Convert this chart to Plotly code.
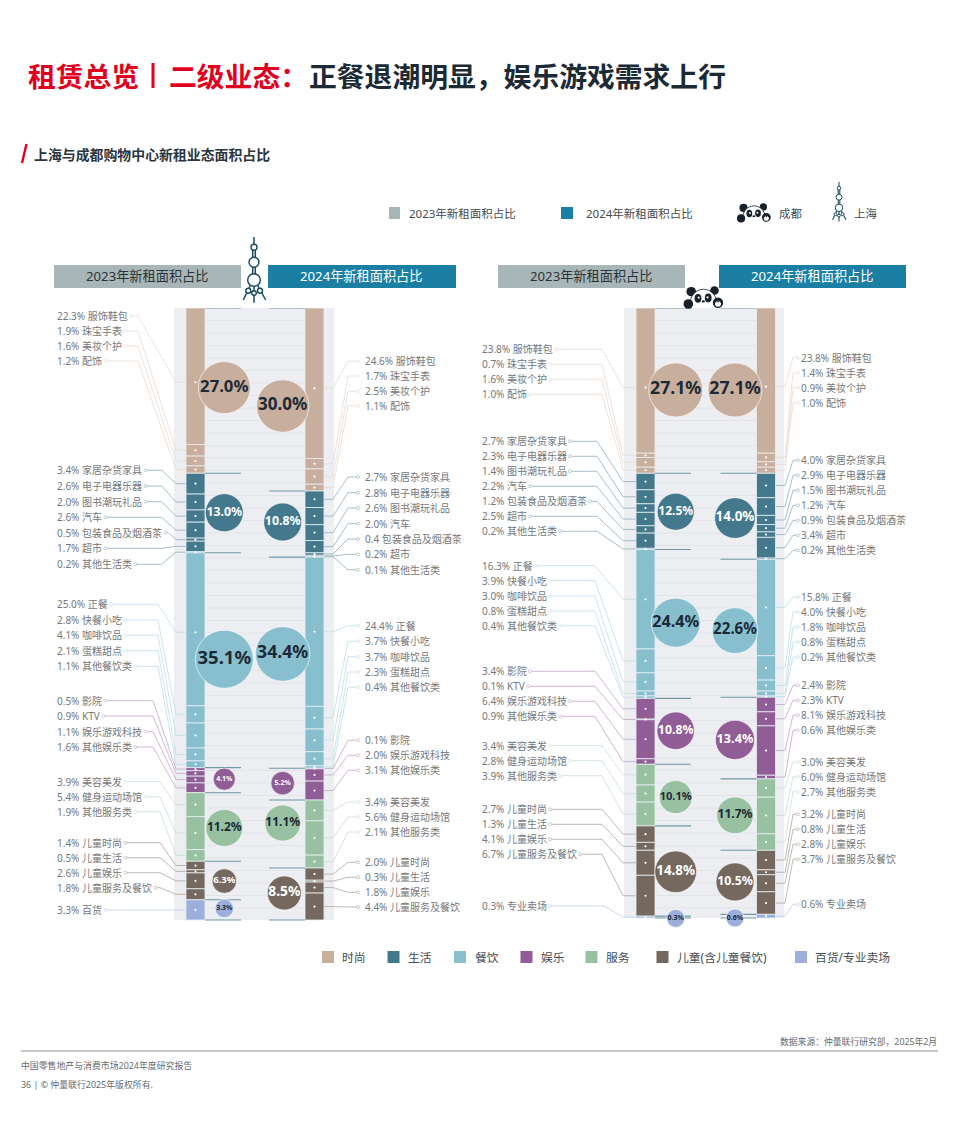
import plotly.graph_objects as go

# ---------- data ----------
groups_names = ["时尚", "生活", "餐饮", "娱乐", "服务", "儿童(含儿童餐饮)", "百货/专业卖场"]

sh23_names = ["服饰鞋包", "珠宝手表", "美妆个护", "配饰",
              "家居杂货家具", "电子电器乐器", "图书潮玩礼品", "汽车", "包装食品及烟酒茶", "超市", "其他生活类",
              "正餐", "快餐小吃", "咖啡饮品", "蛋糕甜点", "其他餐饮类",
              "影院", "KTV", "娱乐游戏科技", "其他娱乐类",
              "美容美发", "健身运动场馆", "其他服务类",
              "儿童时尚", "儿童生活", "儿童娱乐", "儿童服务及餐饮", "百货"]
sh23_values = [22.3, 1.9, 1.6, 1.2, 3.4, 2.6, 2.0, 2.6, 0.5, 1.7, 0.2, 25.0, 2.8, 4.1, 2.1, 1.1,
               0.5, 0.9, 1.1, 1.6, 3.9, 5.4, 1.9, 1.4, 0.5, 2.6, 1.8, 3.3]
sh23_groups = [0]*4 + [1]*7 + [2]*5 + [3]*4 + [4]*3 + [5]*4 + [6]
sh23_totals = [27.0, 13.0, 35.1, 4.1, 11.2, 6.3, 3.3]

sh24_names = ["服饰鞋包", "珠宝手表", "美妆个护", "配饰",
              "家居杂货家具", "电子电器乐器", "图书潮玩礼品", "汽车", "包装食品及烟酒茶", "超市", "其他生活类",
              "正餐", "快餐小吃", "咖啡饮品", "蛋糕甜点", "其他餐饮类",
              "影院", "娱乐游戏科技", "其他娱乐类",
              "美容美发", "健身运动场馆", "其他服务类",
              "儿童时尚", "儿童生活", "儿童娱乐", "儿童服务及餐饮"]
sh24_values = [24.6, 1.7, 2.5, 1.1, 2.7, 2.8, 2.6, 2.0, 0.4, 0.2, 0.1, 24.4, 3.7, 3.7, 2.3, 0.4,
               0.1, 2.0, 3.1, 3.4, 5.6, 2.1, 2.0, 0.3, 1.8, 4.4]
sh24_groups = [0]*4 + [1]*7 + [2]*5 + [3]*3 + [4]*3 + [5]*4
sh24_totals = [30.0, 10.8, 34.4, 5.2, 11.1, 8.5]

cd23_names = ["服饰鞋包", "珠宝手表", "美妆个护", "配饰",
              "家居杂货家具", "电子电器乐器", "图书潮玩礼品", "汽车", "包装食品及烟酒茶", "超市", "其他生活类",
              "正餐", "快餐小吃", "咖啡饮品", "蛋糕甜点", "其他餐饮类",
              "影院", "KTV", "娱乐游戏科技", "其他娱乐类",
              "美容美发", "健身运动场馆", "其他服务类",
              "儿童时尚", "儿童生活", "儿童娱乐", "儿童服务及餐饮", "专业卖场"]
cd23_values = [23.8, 0.7, 1.6, 1.0, 2.7, 2.3, 1.4, 2.2, 1.2, 2.5, 0.2, 16.3, 3.9, 3.0, 0.8, 0.4,
               3.4, 0.1, 6.4, 0.9, 3.4, 2.8, 3.9, 2.7, 1.3, 4.1, 6.7, 0.3]
cd23_groups = sh23_groups
cd23_totals = [27.1, 12.5, 24.4, 10.8, 10.1, 14.8, 0.3]

cd24_names = cd23_names
cd24_values = [23.8, 1.4, 0.9, 1.0, 4.0, 2.9, 1.5, 1.2, 0.9, 3.4, 0.2, 15.8, 4.0, 1.8, 0.8, 0.2,
               2.4, 2.3, 8.1, 0.6, 3.0, 6.0, 2.7, 3.2, 0.8, 2.8, 3.7, 0.6]
cd24_groups = sh23_groups
cd24_totals = [27.1, 14.0, 22.6, 13.4, 11.7, 10.5, 0.6]

year_labels = ["2023年新租面积占比", "2024年新租面积占比"]

# ---------- styles & layout positions (pixels of the page) ----------
FONT = "Noto Sans, Noto Sans CJK SC"
CJK = "Noto Sans CJK SC"
COLON, COMMA = "\uff1a", "\uff0c"   # full-width punctuation
C_BAR = ["#c8ae9d", "#44788c", "#87bfcf", "#905d97", "#98c1a1", "#75695f", "#9cafdc"]
C_LINE = ["#e8dad0", "#90b0bd", "#bcdee7", "#c3a6c6", "#c9e0ce", "#aea79f", "#bfcdec"]
C_GREY_H, C_BLUE_H = "#a9b6b7", "#1a7fa3"
C_RED, C_DARK = "#e1001e", "#1c2a36"
C_TXT = "#74787c"
INK = "#17495f"
ELBOW_SH_L = [138, 161.7, 158, 153, 160, 160, 160]
ELBOW_CD_L = [602, 597, 595, 595, 602, 602, 604]
EXTRA = 14  # spare axis room under the columns, so low bubbles stay drawn

PANELS = [
    dict(xa="x2", ya="y2", L=174, R=334, top=308, bottom=920, c0=195.5, c1=314.5, bw=19, stub=36,
         hdr=[(54, 241), (268, 456)],
         series=[
             dict(names=sh23_names, values=sh23_values, groups=sh23_groups, totals=sh23_totals,
                  lx=56.3, side="L", e1=ELBOW_SH_L, e2=176, dn={0: 6, 11: 3},
                  ly=[316, 331, 346, 361, 470.3, 486, 501.7, 517.3, 532.7, 548.3, 564.3,
                      604.3, 620, 635.3, 650.7, 666.3, 700.7, 716, 731.7, 747,
                      781.7, 796.7, 811.7, 842.7, 857.7, 872.7, 887.7, 910],
                  bx=224.3, bxs=None, bd=[52, 38, 58, 22, 37, 24.5, 18.5],
                  bn=[-3, -0.3, -1, -1, 1, 0.5, -1.4], bf=[16.7, 12.3, 18.5, 7, 12, 9.6, 7],
                  bc=[1, 0, 1, 0, 1, 0, 1]),
             dict(names=sh24_names, values=sh24_values, groups=sh24_groups, totals=sh24_totals,
                  lx=364.3, side="R", e1=348, e2=333, cx=358, dn={0: 5},
                  ly=[361.3, 376, 391.3, 406, 477, 492.7, 508, 523.7, 539, 554.3, 569.7,
                      625.7, 641.3, 656.7, 672, 687.3, 740.3, 755.3, 770.3,
                      802, 817, 832, 862.3, 877.3, 892.3, 907],
                  bx=282.7, bxs=[0, 0, 0, 0, 0, 1.6], bd=[52.5, 38, 54.5, 23.5, 36, 34],
                  bn=[6.5, -2, -8.7, -1, -11, -1], bf=[17, 12.3, 17.7, 7, 12, 13.8],
                  bc=[1, 0, 1, 0, 1, 0]),
         ]),
    dict(xa="x3", ya="y3", L=624, R=784, top=308, bottom=918, c0=645.5, c1=766, bw=19, stub=36,
         hdr=[(498, 685), (719, 906)],
         series=[
             dict(names=cd23_names, values=cd23_values, groups=cd23_groups, totals=cd23_totals,
                  lx=480.8, side="L", e1=ELBOW_CD_L, e2=623, dn={0: 7},
                  ly=[349.3, 364.3, 379.3, 394.3, 441.3, 456.3, 471.3, 486.3, 501.3, 516.3, 531.3,
                      565.7, 580.7, 596, 611, 625.7, 671.3, 686.3, 701.3, 716.3,
                      745.7, 760.7, 775.7, 809.3, 824.3, 839.3, 854.3, 906],
                  bx=675.7, bxs=None, bd=[54, 37, 49, 37.5, 33, 41.7, 18],
                  bn=[-0.7, 0.3, -1.3, -0.6, 2, 0.7, 1.3], bf=[17.7, 12, 16.2, 12.3, 11, 13.4, 7],
                  bc=[1, 0, 1, 0, 1, 0, 1]),
             dict(names=cd24_names, values=cd24_values, groups=cd24_groups, totals=cd24_totals,
                  lx=800, side="R", e1=793, e2=785, cx=798, dn={0: 6},
                  ly=[357.7, 372.7, 387.7, 402.7, 460.3, 475.3, 490.3, 505.3, 520.3, 535.3, 550.3,
                      597, 612, 627, 642, 657, 685.3, 700.3, 715.3, 730.3,
                      761.7, 776.7, 791.7, 814.3, 829.3, 844.3, 859.3, 904.3],
                  bx=735, bxs=None, bd=[54, 40.7, 45.7, 39.3, 36.7, 38, 18],
                  bn=[-0.7, 1.7, 2.4, 1.9, 0.7, -0.4, 1.8], bf=[17.7, 13.4, 15.1, 12.7, 12.1, 12.3, 7],
                  bc=[1, 0, 1, 0, 1, 0, 1]),
         ]),
]


def tw(s, fs=10.0):
    """rough text width, used to place the small ring after a left-hand label"""
    w = 0.0
    for ch in s:
        if ord(ch) > 0x2e80:
            w += fs
        elif ch == " ":
            w += .26 * fs
        elif ch == ".":
            w += .286 * fs
        elif ch == "%":
            w += .83 * fs
        elif ch.isdigit():
            w += .572 * fs
        else:
            w += .6 * fs
    return w


fig = go.Figure()
shapes, annos = [], []


def rect(x0, y0, x1, y1, fill, layer="below"):
    shapes.append(dict(type="rect", xref="x", yref="y", x0=x0, y0=y0, x1=x1, y1=y1,
                       fillcolor=fill, line=dict(width=0), layer=layer))


def seg(x0, y0, x1, y1, color, w=1.0, layer="below"):
    shapes.append(dict(type="line", xref="x", yref="y", x0=x0, y0=y0, x1=x1, y1=y1,
                       line=dict(color=color, width=w), layer=layer))


def circ(cx, cy, rx, fill, ry=None, line=None, lw=0, layer="above"):
    ry = rx if ry is None else ry
    shapes.append(dict(type="circle", xref="x", yref="y", x0=cx-rx, x1=cx+rx, y0=cy-ry, y1=cy+ry,
                       fillcolor=fill, line=dict(color=line or fill, width=lw), layer=layer))


def text(x, y, s, size, color, anchor="left", family=CJK, weight=400):
    annos.append(dict(xref="x", yref="y", x=x, y=y, text=s, showarrow=False, xanchor=anchor, yanchor="middle",
                      borderpad=0, font=dict(family=family, size=size, color=color, weight=weight)))


def tower(cx, top, s):
    for (x0, y0, x1, y1) in [(0, 0, 0, 8), (-1.3, 12, -1.3, 21), (1.3, 12, 1.3, 21), (-1.3, 30, -1.3, 37),
                             (1.3, 30, 1.3, 37), (-3.5, 48, -10.7, 63), (3.5, 48, 11.7, 63), (0, 48, 0, 65.7)]:
        seg(cx+x0*s, top+y0*s, cx+x1*s, top+y1*s, INK, 1.5*max(s, .7), "above")
    for (x, y, r) in [(0, 10.3, 3), (0, 25.3, 5), (0, 43, 6.3), (-5.7, 53.7, 2.5), (6, 53.7, 2.5), (0, 56, 2.3)]:
        circ(cx+x*s, top+y*s, r*s, "white", line=INK, lw=1.4*max(s, .7))


def panda(cx, cy, s):
    D = "#16212b"
    # ears behind the head
    circ(cx-12.3*s, cy-8.3*s, 4.8*s, D)
    circ(cx+11*s, cy-9.5*s, 4.3*s, D)
    # head: white cap with a dark top edge, open at the bottom
    head = (f"M{cx-14*s},{cy+8*s} C{cx-15*s},{cy-17*s} {cx+15*s},{cy-17*s} {cx+14*s},{cy+8*s}")
    shapes.append(dict(type="path", xref="x", yref="y", path=head + " Z", fillcolor="white",
                       line=dict(width=0), layer="above"))
    shapes.append(dict(type="path", xref="x", yref="y", path=head, fillcolor="rgba(0,0,0,0)",
                       line=dict(color=D, width=.8), layer="above"))
    # hand and paw
    circ(cx-15.2*s, cy+4*s, 4.8*s, D)
    circ(cx+14.5*s, cy+2.7*s, 5.2*s, D)
    circ(cx+14.5*s, cy+3.8*s, 3*s, "white")
    for dx in (-2.4, 0, 2.4):
        circ(cx+(14.5+dx)*s, cy+1.6*s, .9*s, D)
    # face
    circ(cx-5.5*s, cy-1.7*s, 3.4*s, D, ry=4.4*s)
    circ(cx+4.7*s, cy-2*s, 3.4*s, D, ry=4.4*s)
    circ(cx-4.8*s, cy-2.4*s, 1.1*s, "white")
    circ(cx+4*s, cy-2.7*s, 1.1*s, "white")
    circ(cx-.2*s, cy+1.4*s, 1.6*s, D, ry=1.1*s)


for p in PANELS:
    u = p["c1"] - p["c0"]
    sc = (p["bottom"] - p["top"]) / 100.0
    dx = lambda px: (px - p["c0"]) / u
    py = lambda v: p["top"] + v * sc
    rect(p["L"], p["top"], p["R"], p["bottom"], "#eceef2")
    # faint ruling between the two columns
    a, b = p["c0"] + p["bw"]/2, p["c1"] - p["bw"]/2
    rule, yy = "", p["top"] + 12.5
    while yy < p["bottom"] - 2:
        rule += f"M{a},{yy:.1f}H{b}"
        yy += 12.5
    shapes.append(dict(type="path", xref="x", yref="y", path=rule, line=dict(color="#e2e4e9", width=1), layer="below"))

    for col, ser in enumerate(p["series"]):
        vals, grp = ser["values"], ser["groups"]
        starts, c = [], 0.0
        for v in vals:
            starts.append(c)
            c += v
        mids = [s + v/2 + ser["dn"].get(i, 0)/sc for i, (s, v) in enumerate(zip(starts, vals))]
        # bars
        fig.add_trace(go.Bar(x=[col]*len(vals), y=vals, base=starts, width=p["bw"]/u,
                             marker=dict(color=[C_BAR[g] for g in grp], line=dict(color="#e9eff1", width=.8)),
                             xaxis=p["xa"], yaxis=p["ya"], hoverinfo="skip", showlegend=False))
        # segment dots
        fig.add_trace(go.Scatter(x=[col]*len(vals), y=mids, mode="markers",
                                 marker=dict(color="white", size=2.2), xaxis=p["xa"], yaxis=p["ya"],
                                 hoverinfo="skip", showlegend=False, cliponaxis=False))
        # group boundaries and bubbles
        ids = sorted(set(grp))
        g_start = {g: min(s for s, k in zip(starts, grp) if k == g) for g in ids}
        g_sum = {g: sum(v for v, k in zip(vals, grp) if k == g) for g in ids}
        edge = (p["c0"] + p["bw"]/2) if col == 0 else (p["c1"] - p["bw"]/2)
        far = edge + p["stub"] if col == 0 else edge - p["stub"]
        bx, by = [], []
        for g in ids:
            bx += [dx(edge), dx(far), None]
            by += [g_start[g], g_start[g], None]
        bx += [dx(edge), dx(far), None]
        by += [c, c, None]
        fig.add_trace(go.Scatter(x=bx, y=by, mode="lines", line=dict(color="#6f97a8", width=1.1),
                                 xaxis=p["xa"], yaxis=p["ya"], hoverinfo="skip", showlegend=False, cliponaxis=False))
        sh = ser["bxs"] or [0]*len(ids)
        fig.add_trace(go.Scatter(
            x=[dx(ser["bx"] + sh[i]) for i in range(len(ids))],
            y=[g_start[g] + g_sum[g]/2 + ser["bn"][i]/sc for i, g in enumerate(ids)],
            mode="markers+text",
            marker=dict(size=ser["bd"], color=[C_BAR[g] for g in ids], opacity=1, line=dict(color="white", width=.6)),
            text=[f"{t:.1f}%" for t in ser["totals"]], textposition="middle center",
            textfont=dict(family="Noto Sans", size=ser["bf"], weight=700,
                          color=[C_DARK if k else "white" for k in ser["bc"]]),
            xaxis=p["xa"], yaxis=p["ya"], hoverinfo="skip", showlegend=False, cliponaxis=False))
        # leader lines and labels (page pixels)
        for g in ids:
            lx, ly, rx, ry = [], [], [], []
            for i, k in enumerate(grp):
                if k != g:
                    continue
                vt = "0.4" if (p["xa"] == "x2" and col == 1 and ser["names"][i] == "包装食品及烟酒茶") else f"{vals[i]:.1f}%"
                label = f"{vt} {ser['names'][i]}"
                sy = py(mids[i])
                if ser["side"] == "L":
                    cx = ser["lx"] + tw(label) + 4
                    e1 = ser["e1"][g]
                    e1 = max(e1, cx + 3)
                    lx += [cx, e1, ser["e2"], p["c0"] - p["bw"]/2, None]
                    ly += [ser["ly"][i], ser["ly"][i], sy, sy, None]
                else:
                    cx = ser["cx"]
                    lx += [p["c1"] + p["bw"]/2, ser["e2"], ser["e1"], cx, None]
                    ly += [sy, sy, ser["ly"][i], ser["ly"][i], None]
                rx.append(cx)
                ry.append(ser["ly"][i])
                text(ser["lx"], ser["ly"][i], label, 10, C_TXT, family=FONT)
            fig.add_trace(go.Scatter(x=lx, y=ly, mode="lines", line=dict(color=C_LINE[g], width=.8),
                                     xaxis="x", yaxis="y", hoverinfo="skip", showlegend=False))
            fig.add_trace(go.Scatter(x=rx, y=ry, mode="markers",
                                     marker=dict(size=3, color="white", line=dict(color=C_LINE[g], width=.6)),
                                     xaxis="x", yaxis="y", hoverinfo="skip", showlegend=False))
    # header bands
    for (x0, x1), fill, s, col in zip(p["hdr"], (C_GREY_H, C_BLUE_H), year_labels, ("#2b3338", "white")):
        rect(x0, 265, x1, 288, fill)
        text((x0 + x1)/2 - .5, 275.5, s, 13.2, col, "center", FONT)

# title block
text(26.5, 74.5, "租赁总览", 27.8, C_RED, weight=700)
seg(153, 63, 153, 88, C_RED, 3)
text(167.5, 74.5, "二级业态" + COLON, 27.8, C_RED, weight=700)
text(307.5, 74.5, "正餐退潮明显" + COMMA + "娱乐游戏需求上行", 27.8, C_DARK, weight=700)
seg(26.5, 144, 22, 163, C_RED, 2.4)
text(32.5, 154, "上海与成都购物中心新租业态面积占比", 13.9, "#2a3540", weight=700)

# top legend
rect(389, 207, 400, 219, C_GREY_H)
text(407.5, 213, year_labels[0], 11.5, "#444b50", family=FONT)
rect(561, 207, 573, 219, C_BLUE_H)
text(584.5, 213, year_labels[1], 11.5, "#444b50", family=FONT)
panda(754, 215, .85)
text(777.5, 213, "成都", 11.4, "#444b50")
tower(839, 182, .6)
text(852.5, 213, "上海", 11.4, "#444b50")

# page icons
tower(254, 237, 1)
panda(703.5, 300, 1)

# bottom legend
for x, tx, name, col in zip([322, 387.5, 454, 520.5, 585.5, 656.5, 795], [341, 406.5, 473.5, 540, 604.5, 675.5, 814],
                            groups_names, C_BAR):
    rect(x, 951, x + 12, 963, col)
    text(tx, 957, name, 11.8, "#444b50", family=FONT)

# footer
text(938, 1042, "数据来源" + COLON + "仲量联行研究部" + COMMA + "2025年2月", 8.8, "#666a6e", "right", FONT)
seg(21, 1051, 938, 1051, "#8b8f92", 1)
text(20, 1065, "中国零售地产与消费市场2024年度研究报告", 8.9, "#666a6e", family=FONT)
text(20, 1084, "36 | © 仲量联行2025年版权所有.", 8.9, "#666a6e", family=FONT)

layout = dict(width=960, height=1135, margin=dict(l=0, r=0, t=0, b=0), paper_bgcolor="white",
              plot_bgcolor="rgba(0,0,0,0)", showlegend=False, barmode="overlay", shapes=shapes, annotations=annos,
              xaxis=dict(range=[0, 960], domain=[0, 1], visible=False, fixedrange=True),
              yaxis=dict(range=[1135, 0], domain=[0, 1], visible=False, fixedrange=True))
for p, (xk, yk) in zip(PANELS, (("xaxis2", "yaxis2"), ("xaxis3", "yaxis3"))):
    u = p["c1"] - p["c0"]
    sc = (p["bottom"] - p["top"]) / 100.0
    layout[xk] = dict(domain=[p["L"]/960, p["R"]/960], anchor=yk.replace("axis", ""), visible=False, fixedrange=True,
                      range=[(p["L"] - p["c0"])/u, (p["R"] - p["c0"])/u])
    layout[yk] = dict(domain=[1 - (p["bottom"] + EXTRA)/1135, 1 - p["top"]/1135], anchor=xk.replace("axis", ""),
                      visible=False, fixedrange=True, range=[100 + EXTRA/sc, 0])
fig.update_layout(**layout)
fig.write_html("out.html", config=dict(displayModeBar=False),
               post_script="document.body.style.margin='0';document.documentElement.style.overflow='hidden';")
